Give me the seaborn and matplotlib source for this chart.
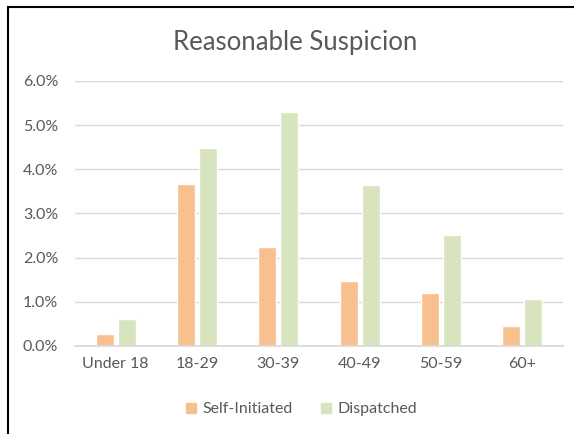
import pandas as pd
import matplotlib.pyplot as plt
import matplotlib.patches as mpatches
from matplotlib.ticker import PercentFormatter
import seaborn as sns

# values (percent)
age_groups = ['Under 18', '18-29', '30-39', '40-49', '50-59', '60+']
self_initiated = [0.28, 3.67, 2.24, 1.47, 1.19, 0.45]
dispatched = [0.62, 4.48, 5.30, 3.64, 2.51, 1.06]
series_names = ['Self-Initiated', 'Dispatched']
colors = ['#F8C08F', '#D8E4BE']

df = pd.DataFrame({
    'age': age_groups * 2,
    'pct': [v / 100 for v in self_initiated + dispatched],
    'type': [series_names[0]] * len(age_groups) + [series_names[1]] * len(age_groups),
})

sns.set_theme(style='white')
plt.rcParams['font.family'] = ['Lato', 'DejaVu Sans']
text_color = '#595959'

fig = plt.figure(figsize=(5.74, 4.34), dpi=100)
ax = fig.add_axes([0.1307, 0.2028, 0.8503, 0.6106])

sns.barplot(data=df, x='age', y='pct', hue='type', palette=colors,
            width=0.54, gap=0.18, ax=ax, legend=False, saturation=1)

ax.set_ylim(0, 0.06)
ax.set_xlim(-0.5, len(age_groups) - 0.5)
ax.set_yticks([i / 100 for i in range(7)])
ax.yaxis.set_major_formatter(PercentFormatter(1.0, decimals=1))
ax.grid(axis='y', color='#D9D9D9', linewidth=1)
ax.set_axisbelow(True)
for s in ['top', 'right', 'left']:
    ax.spines[s].set_visible(False)
ax.spines['bottom'].set_color('#D9D9D9')
ax.tick_params(axis='both', length=0, labelsize=11.5, colors=text_color)
ax.tick_params(axis='y', pad=12)
ax.tick_params(axis='x', pad=8)
ax.set_xlabel('')
ax.set_ylabel('')

fig.text(0.515, 0.903, 'Reasonable Suspicion', ha='center', va='center',
         fontsize=18.5, color=text_color)

handles = [mpatches.Patch(color=c, label=n) for c, n in zip(colors, series_names)]
fig.legend(handles=handles, loc='center', bbox_to_anchor=(0.525, 0.057), ncol=2,
           frameon=False, fontsize=11.5, handlelength=0.6, handleheight=0.6,
           handletextpad=0.4, columnspacing=1.8, labelcolor=text_color)

# chart border (only left and top edges are visible in the crop)
fig.patches.append(mpatches.Rectangle((8 / 574, -0.05), 1.0, 1 - 7 / 434 + 0.05,
                                      transform=fig.transFigure, fill=False,
                                      edgecolor='black', linewidth=1.5))

fig.savefig('out.png', dpi=100)
